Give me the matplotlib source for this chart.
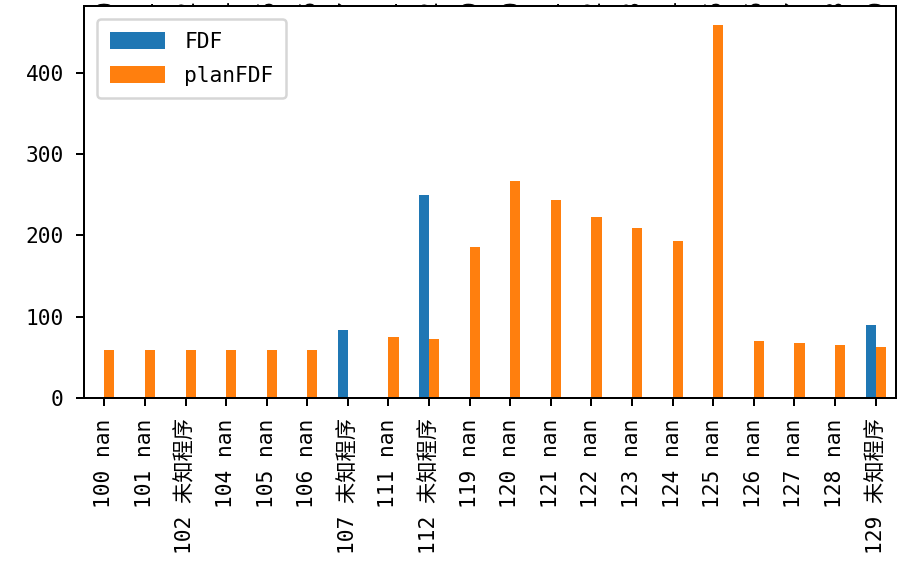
import numpy as np
import matplotlib
matplotlib.use("Agg")
import matplotlib.pyplot as plt
from matplotlib.transforms import blended_transform_factory

plt.rcParams['font.family'] = ['DejaVu Sans Mono', 'Noto Sans CJK SC']
plt.rcParams['font.size'] = 8.5
plt.rcParams['axes.unicode_minus'] = False

ids = [100, 101, 102, 104, 105, 106, 107, 111, 112, 119,
       120, 121, 122, 123, 124, 125, 126, 127, 128, 129]
names = ['nan', 'nan', '未知程序', 'nan', 'nan', 'nan', '未知程序', 'nan', '未知程序', 'nan',
         'nan', 'nan', 'nan', 'nan', 'nan', 'nan', 'nan', 'nan', 'nan', '未知程序']
fdf = [np.nan, np.nan, np.nan, np.nan, np.nan, np.nan, 83, np.nan, 249, np.nan,
       np.nan, np.nan, np.nan, np.nan, np.nan, np.nan, np.nan, np.nan, np.nan, 90]
plan_fdf = [59, 59, 59, 59, 59, 59, np.nan, 75, 73, 186,
            267, 244, 223, 209, 193, 459, 70, 68, 65, 63]

labels = [f"{i} {n}" for i, n in zip(ids, names)]

dpi = 180
fig = plt.figure(figsize=(897 / dpi, 581 / dpi), dpi=dpi)
ax = fig.add_axes([84 / 897, 1 - 398 / 581, (896 - 84) / 897, (398 - 6) / 581])

x = np.arange(len(ids))
w = 0.25
ax.bar(x - w / 2, fdf, w, color='#1f77b4', label='FDF')
ax.bar(x + w / 2, plan_fdf, w, color='#ff7f0e', label='planFDF')
ax.set_xlim(-0.5, len(ids) - 0.5)
ax.set_xticks(x)
ax.set_xticklabels(labels, rotation=90)
ax.tick_params(length=3.3, pad=4.8)
ax.set_yticks([0, 100, 200, 300, 400])
ax.legend(loc='upper left', handlelength=2.6, handleheight=0.85,
          handletextpad=0.9, labelspacing=0.65, borderpad=0.6,
          borderaxespad=0.62)

# remnants of rotated labels hidden behind the axes at the top edge
tr = blended_transform_factory(ax.transData, fig.transFigure)
for xi, i in zip(x, ids):
    fig.text(xi, 1.0 + 1.5 / 581, str(i), rotation=90, ha='center', va='top',
             transform=tr, zorder=-1, fontsize=10, family='Noto Sans CJK SC')

fig.savefig('out.png', dpi=dpi)
